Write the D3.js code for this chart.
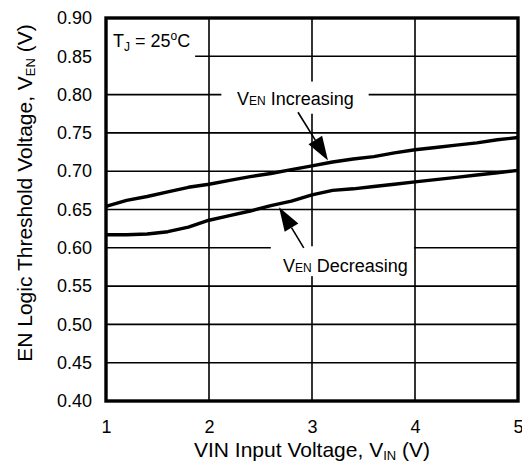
<!DOCTYPE html>
<html><head><meta charset="utf-8">
<script src="https://cdn.jsdelivr.net/npm/d3@7"></script>
<style>body{margin:0;background:#fff}svg{display:block}text{font-family:"Liberation Sans",Arial,sans-serif;fill:#000}</style>
</head><body>
<svg id="c" width="522" height="469"></svg>
<script>
const vin = [1, 1.2, 1.4, 1.6, 1.8, 2, 2.2, 2.4, 2.6, 2.8, 3, 3.2, 3.4, 3.6, 3.8, 4, 4.2, 4.4, 4.6, 4.8, 5];
const venIncreasing = [0.654, 0.662, 0.667, 0.673, 0.679, 0.683, 0.688, 0.693, 0.697, 0.702, 0.707, 0.712, 0.716, 0.719, 0.724, 0.728, 0.731, 0.734, 0.737, 0.741, 0.744];
const venDecreasing = [0.617, 0.617, 0.618, 0.621, 0.627, 0.636, 0.642, 0.648, 0.655, 0.661, 0.669, 0.675, 0.677, 0.680, 0.683, 0.686, 0.689, 0.692, 0.695, 0.698, 0.701];
const xTicks = [1, 2, 3, 4, 5];
const yTicks = [0.40, 0.45, 0.50, 0.55, 0.60, 0.65, 0.70, 0.75, 0.80, 0.85, 0.90];

const svg = d3.select("#c");
const L = 106, R = 518, T = 18, B = 401;
const x = d3.scaleLinear().domain([1, 5]).range([L, R]);
const y = d3.scaleLinear().domain([0.4, 0.9]).range([B, T]);

// grid
const g = svg.append("g");
g.selectAll("line.v").data(xTicks.slice(1, -1)).enter().append("line")
  .attr("x1", d => x(d)).attr("x2", d => x(d)).attr("y1", T).attr("y2", B)
  .attr("stroke", "#000").attr("stroke-width", 1.6);
g.selectAll("line.h").data(yTicks.slice(1, -1)).enter().append("line")
  .attr("x1", L).attr("x2", R).attr("y1", d => y(d)).attr("y2", d => y(d))
  .attr("stroke", "#000").attr("stroke-width", 1.6);

// axes (labels only)
const xAxis = d3.axisBottom(x).tickValues(xTicks).tickFormat(d3.format("d")).tickSize(0).tickPadding(19);
const yAxis = d3.axisLeft(y).tickValues(yTicks).tickFormat(d3.format(".2f")).tickSize(0).tickPadding(14);
const xa = svg.append("g").attr("transform", `translate(0,${B})`).call(xAxis);
const ya = svg.append("g").attr("transform", `translate(${L},0)`).call(yAxis);
[xa, ya].forEach(a => { a.select(".domain").remove(); a.selectAll("text").style("font-size", "18px").attr("fill", "#000"); });
// keep the last x tick label inside the picture
xa.selectAll("text").filter(d => d === xTicks[xTicks.length - 1]).attr("text-anchor", "end").attr("dx", "5px");

// annotation boxes (white)
function box(x0, x1, y0, y1) {
  svg.append("rect").attr("x", x(x0)).attr("y", y(y0)).attr("width", x(x1) - x(x0)).attr("height", y(y1) - y(y0)).attr("fill", "#fff");
}
box(1.01, 1.865, 0.899, 0.82);
box(2.12, 3.55, 0.817, 0.775);
box(2.6, 3.99, 0.602, 0.563);

// data lines
const line = d3.line().x((d, i) => x(vin[i])).y(d => y(d));
[venIncreasing, venDecreasing].forEach(s => {
  svg.append("path").attr("d", line(s)).attr("fill", "none").attr("stroke", "#000")
    .attr("stroke-width", 3.4).attr("stroke-linejoin", "round");
});

// frame
svg.append("rect").attr("x", L).attr("y", T).attr("width", R - L).attr("height", B - T)
  .attr("fill", "none").attr("stroke", "#000").attr("stroke-width", 3.4);

// arrows
function arrow(x0, y0, x1, y1) {
  const p0 = [x(x0), y(y0)], p1 = [x(x1), y(y1)];
  const dx = p1[0] - p0[0], dy = p1[1] - p0[1], len = Math.hypot(dx, dy);
  const ux = dx / len, uy = dy / len, hl = 24, hw = 8;
  const bx = p1[0] - ux * hl, by = p1[1] - uy * hl;
  svg.append("line").attr("x1", p0[0]).attr("y1", p0[1]).attr("x2", bx).attr("y2", by)
    .attr("stroke", "#000").attr("stroke-width", 1.6);
  svg.append("path").attr("d", `M${p1[0]},${p1[1]}L${bx - uy * hw},${by + ux * hw}L${bx + uy * hw},${by - ux * hw}Z`).attr("fill", "#000");
}
arrow(2.864, 0.777, 3.155, 0.714);
arrow(2.92, 0.600, 2.68, 0.653);

// labels
const tj = svg.append("text").attr("x", 113).attr("y", 47).style("font-size", "18px");
tj.append("tspan").text("T");
tj.append("tspan").text("J").style("font-size", "12px").attr("dy", 4);
tj.append("tspan").text(" = 25").attr("dy", -4);
tj.append("tspan").text("o").style("font-size", "12px").attr("dy", -7);
tj.append("tspan").text("C").attr("dy", 7);

function venLabel(px, py, word) {
  const t = svg.append("text").attr("x", px).attr("y", py).style("font-size", "18px");
  t.append("tspan").text("V");
  t.append("tspan").text("EN").style("font-size", "12px");
  t.append("tspan").text(" " + word);
}
venLabel(237, 105, "Increasing");
venLabel(283, 272, "Decreasing");

// axis titles
const xt = svg.append("text").attr("x", 312).attr("y", 457).attr("text-anchor", "middle").style("font-size", "21px");
xt.append("tspan").text("VIN Input Voltage, V");
xt.append("tspan").text("IN").style("font-size", "13px").attr("dy", 3);
xt.append("tspan").text(" (V)").attr("dy", -3);

const yt = svg.append("text").attr("transform", `translate(32,193) rotate(-90)`).attr("text-anchor", "middle").style("font-size", "21px");
yt.append("tspan").text("EN Logic Threshold Voltage, V");
yt.append("tspan").text("EN").style("font-size", "13px").attr("dy", 3);
yt.append("tspan").text(" (V)").attr("dy", -3);
</script>
</body></html>
